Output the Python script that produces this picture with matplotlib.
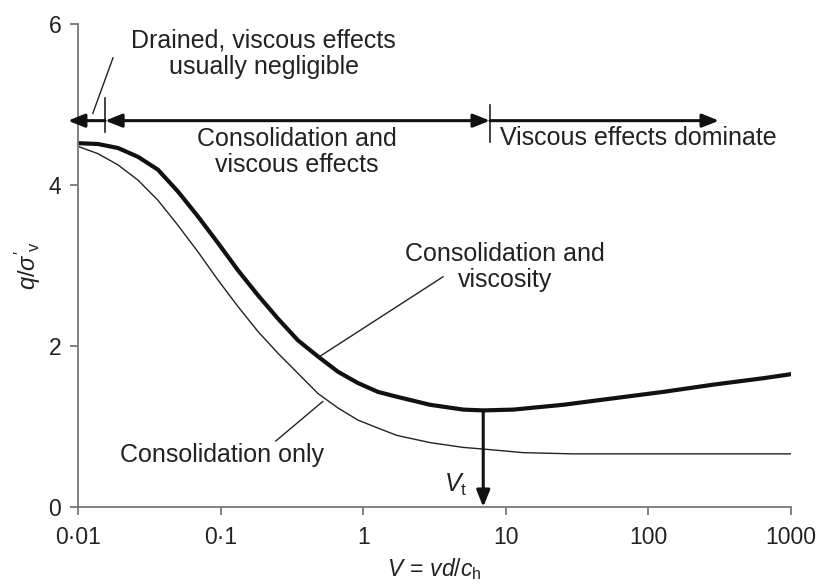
import matplotlib
matplotlib.use("Agg")
import matplotlib.pyplot as plt

plt.rcParams['font.family'] = ['Liberation Sans', 'DejaVu Sans']
plt.rcParams['mathtext.fontset'] = 'custom'
plt.rcParams['mathtext.rm'] = 'Liberation Sans'
plt.rcParams['mathtext.it'] = 'Liberation Sans:italic'

# normalised velocity V = vd/ch against q/sigma'v
V_visc = [0.01, 0.0138, 0.0191, 0.0264, 0.0364, 0.0502, 0.0694, 0.0959, 0.1325,
          0.183, 0.2526, 0.349, 0.482, 0.666, 0.919, 1.27, 1.72, 2.94, 5.04,
          6.95, 11.3, 25.3, 56.7, 127, 285, 640, 1000]
q_visc = [4.52, 4.51, 4.46, 4.35, 4.19, 3.92, 3.61, 3.28, 2.94,
          2.63, 2.34, 2.07, 1.87, 1.68, 1.54, 1.43, 1.37, 1.27, 1.21,
          1.20, 1.21, 1.27, 1.35, 1.43, 1.52, 1.60, 1.65]

V_cons = [0.01, 0.0138, 0.0191, 0.0264, 0.0364, 0.0502, 0.0694, 0.0959, 0.1325,
          0.183, 0.2526, 0.349, 0.482, 0.666, 0.919, 1.27, 1.72, 2.94, 5.04,
          6.95, 13.3, 29.7, 1000]
q_cons = [4.48, 4.39, 4.25, 4.06, 3.81, 3.50, 3.17, 2.82, 2.49,
          2.18, 1.91, 1.66, 1.41, 1.23, 1.08, 0.98, 0.89, 0.80, 0.74,
          0.72, 0.675, 0.66, 0.66]

V_t = 6.95
zone_edges = [0.0155, 7.75]   # drained | consolidation+viscous | viscous
xticks = [0.01, 0.1, 1, 10, 100, 1000]
xticklabels = ['0·01', '0·1', '1', '10', '100', '1000']
yticks = [0, 2, 4, 6]

fig = plt.figure(figsize=(8.2, 5.87), dpi=100)
ax = fig.add_axes([0.0951, 0.1363, 0.8695, 0.8227])

ax.plot(V_cons, q_cons, color='#222222', lw=1.0)
ax.plot(V_visc, q_visc, color='#111111', lw=3.0, solid_joinstyle='round')

ax.set_xscale('log')
ax.set_xlim(0.01, 1000)
ax.set_ylim(0, 6)
ax.set_xticks(xticks)
ax.set_xticklabels(xticklabels)
ax.minorticks_off()
ax.set_yticks(yticks)
for s in ['top', 'right']:
    ax.spines[s].set_visible(False)
for s in ['left', 'bottom']:
    ax.spines[s].set_color('#777777')
    ax.spines[s].set_linewidth(1.3)
ax.tick_params(colors='#777777', labelcolor='#222222', labelsize=16.5, length=6, width=1.3)
ax.tick_params(axis='x', pad=8)
ax.tick_params(axis='y', pad=6)

ax.set_ylabel(r"$q/\sigma'_{\rm v}$", fontsize=17, color='#222222', labelpad=4)
ax.set_xlabel(r"$V\,=\,vd/c_{\rm h}$", fontsize=16.5, color='#222222', labelpad=5)

# zone arrows along the top
ya = 4.8
sty = '-|>,head_length=1.0,head_width=0.4'
head = dict(arrowstyle=sty, color='#111111', lw=2.2, shrinkA=0, shrinkB=0)
dbl = dict(arrowstyle='<|-|>,head_length=1.0,head_width=0.4', color='#111111', lw=2.2,
           shrinkA=0, shrinkB=0)
ax.annotate('', xy=(0.0085, ya), xytext=(zone_edges[0], ya), arrowprops=head,
            annotation_clip=False)
ax.annotate('', xy=(zone_edges[0], ya), xytext=(zone_edges[1], ya), arrowprops=dbl)
ax.annotate('', xy=(313, ya), xytext=(zone_edges[1], ya), arrowprops=head)
ax.plot([zone_edges[0]] * 2, [4.66, 5.08], color='#222222', lw=1.2)
ax.plot([zone_edges[1]] * 2, [4.53, 4.99], color='#222222', lw=1.2)

tkw = dict(fontsize=18, color='#222222', linespacing=1.1)
ax.text(0.2, 5.63, 'Drained, viscous effects\nusually negligible', ha='center', va='center', **tkw)
ax.plot([0.0176, 0.0127], [5.58, 4.89], color='#222222', lw=1.0)
ax.text(0.344, 4.41, 'Consolidation and\nviscous effects', ha='center', va='center', **tkw)
ax.text(9.1, 4.58, 'Viscous effects dominate', ha='left', va='center', **tkw)
ax.text(9.87, 2.98, 'Consolidation and\nviscosity', ha='center', va='center', **tkw)
ax.plot([3.63, 0.495], [2.86, 1.87], color='#222222', lw=1.0)
ax.text(0.0197, 0.646, 'Consolidation only', ha='left', va='center', **tkw)
ax.plot([0.52, 0.244], [1.31, 0.82], color='#222222', lw=1.0)

# transition velocity
ax.annotate('', xy=(V_t, 0), xytext=(V_t, q_visc[V_visc.index(V_t)]),
            arrowprops=dict(arrowstyle=sty, color='#111111', lw=2.2, shrinkA=0, shrinkB=0))
ax.text(5.4, 0.27, r'$V_{\rm t}$', ha='right', va='center', fontsize=18, color='#222222')

fig.savefig('out.png', dpi=100)
